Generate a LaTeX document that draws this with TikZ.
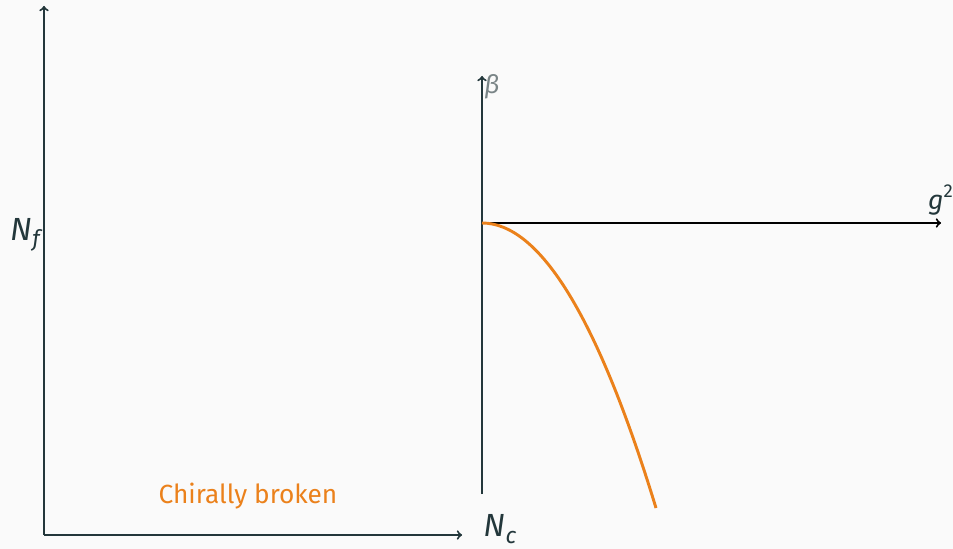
\documentclass[tikz,border=0pt]{standalone}
\usepackage{fontspec}
\setmainfont{Fira Sans}
\definecolor{dslate}{HTML}{23373B}
\definecolor{morange}{HTML}{EB811B}
\definecolor{bgc}{HTML}{FAFAFA}
\definecolor{lgray}{HTML}{7A8587}
\begin{document}
\begin{tikzpicture}[x=0.75pt,y=-0.75pt,
  axis/.style={draw=dslate,line width=1.5pt,->},
  lbl/.style={text=dslate,inner sep=0pt,font=\fontsize{24}{26}\selectfont}]
\fill[bgc] (0,0) rectangle (953,549);
\useasboundingbox (0,0) rectangle (953,549);
% left axes
\coordinate (o) at (44,535);
\coordinate (ytop) at (44,6);
\coordinate (xend) at (462,535);
\draw[axis] (o) -- (ytop);
\draw[axis] (o) -- (xend);
\node[lbl] (nf) at (25,235) {\itshape N\kern0.02em\raisebox{-0.2em}{\fontsize{17}{19}\selectfont f}};
\node[lbl,anchor=west] (nc) at (483,529) {\itshape N\kern0.02em\raisebox{-0.2em}{\fontsize{17}{19}\selectfont c}};
\node[text=morange,inner sep=0pt,font=\fontsize{19.7}{22}\selectfont] (cb) at (248,496) {Chirally broken};
% right plot
\coordinate (bbot) at (482,494);
\coordinate (btop) at (482,76);
\coordinate (g0) at (482,223);
\coordinate (gend) at (941,223);
\draw[axis] (bbot) -- (btop);
\draw[line width=1.5pt,black,->] (g0) -- (gend);
\node[text=lgray,inner sep=0pt,font=\fontsize{19}{22}\selectfont,anchor=west] (beta) at (484,87) {\itshape β};
\node[lbl,anchor=south east,font=\fontsize{20}{22}\selectfont] (g2) at (953,216) {\itshape g\raisebox{0.45em}{\fontsize{14}{16}\selectfont\upshape 2}};
\coordinate (cend) at (656,508);
\draw[morange,line width=2.2pt] (g0) .. controls (540,223) and (598,318) .. (cend);
\end{tikzpicture}
\end{document}
